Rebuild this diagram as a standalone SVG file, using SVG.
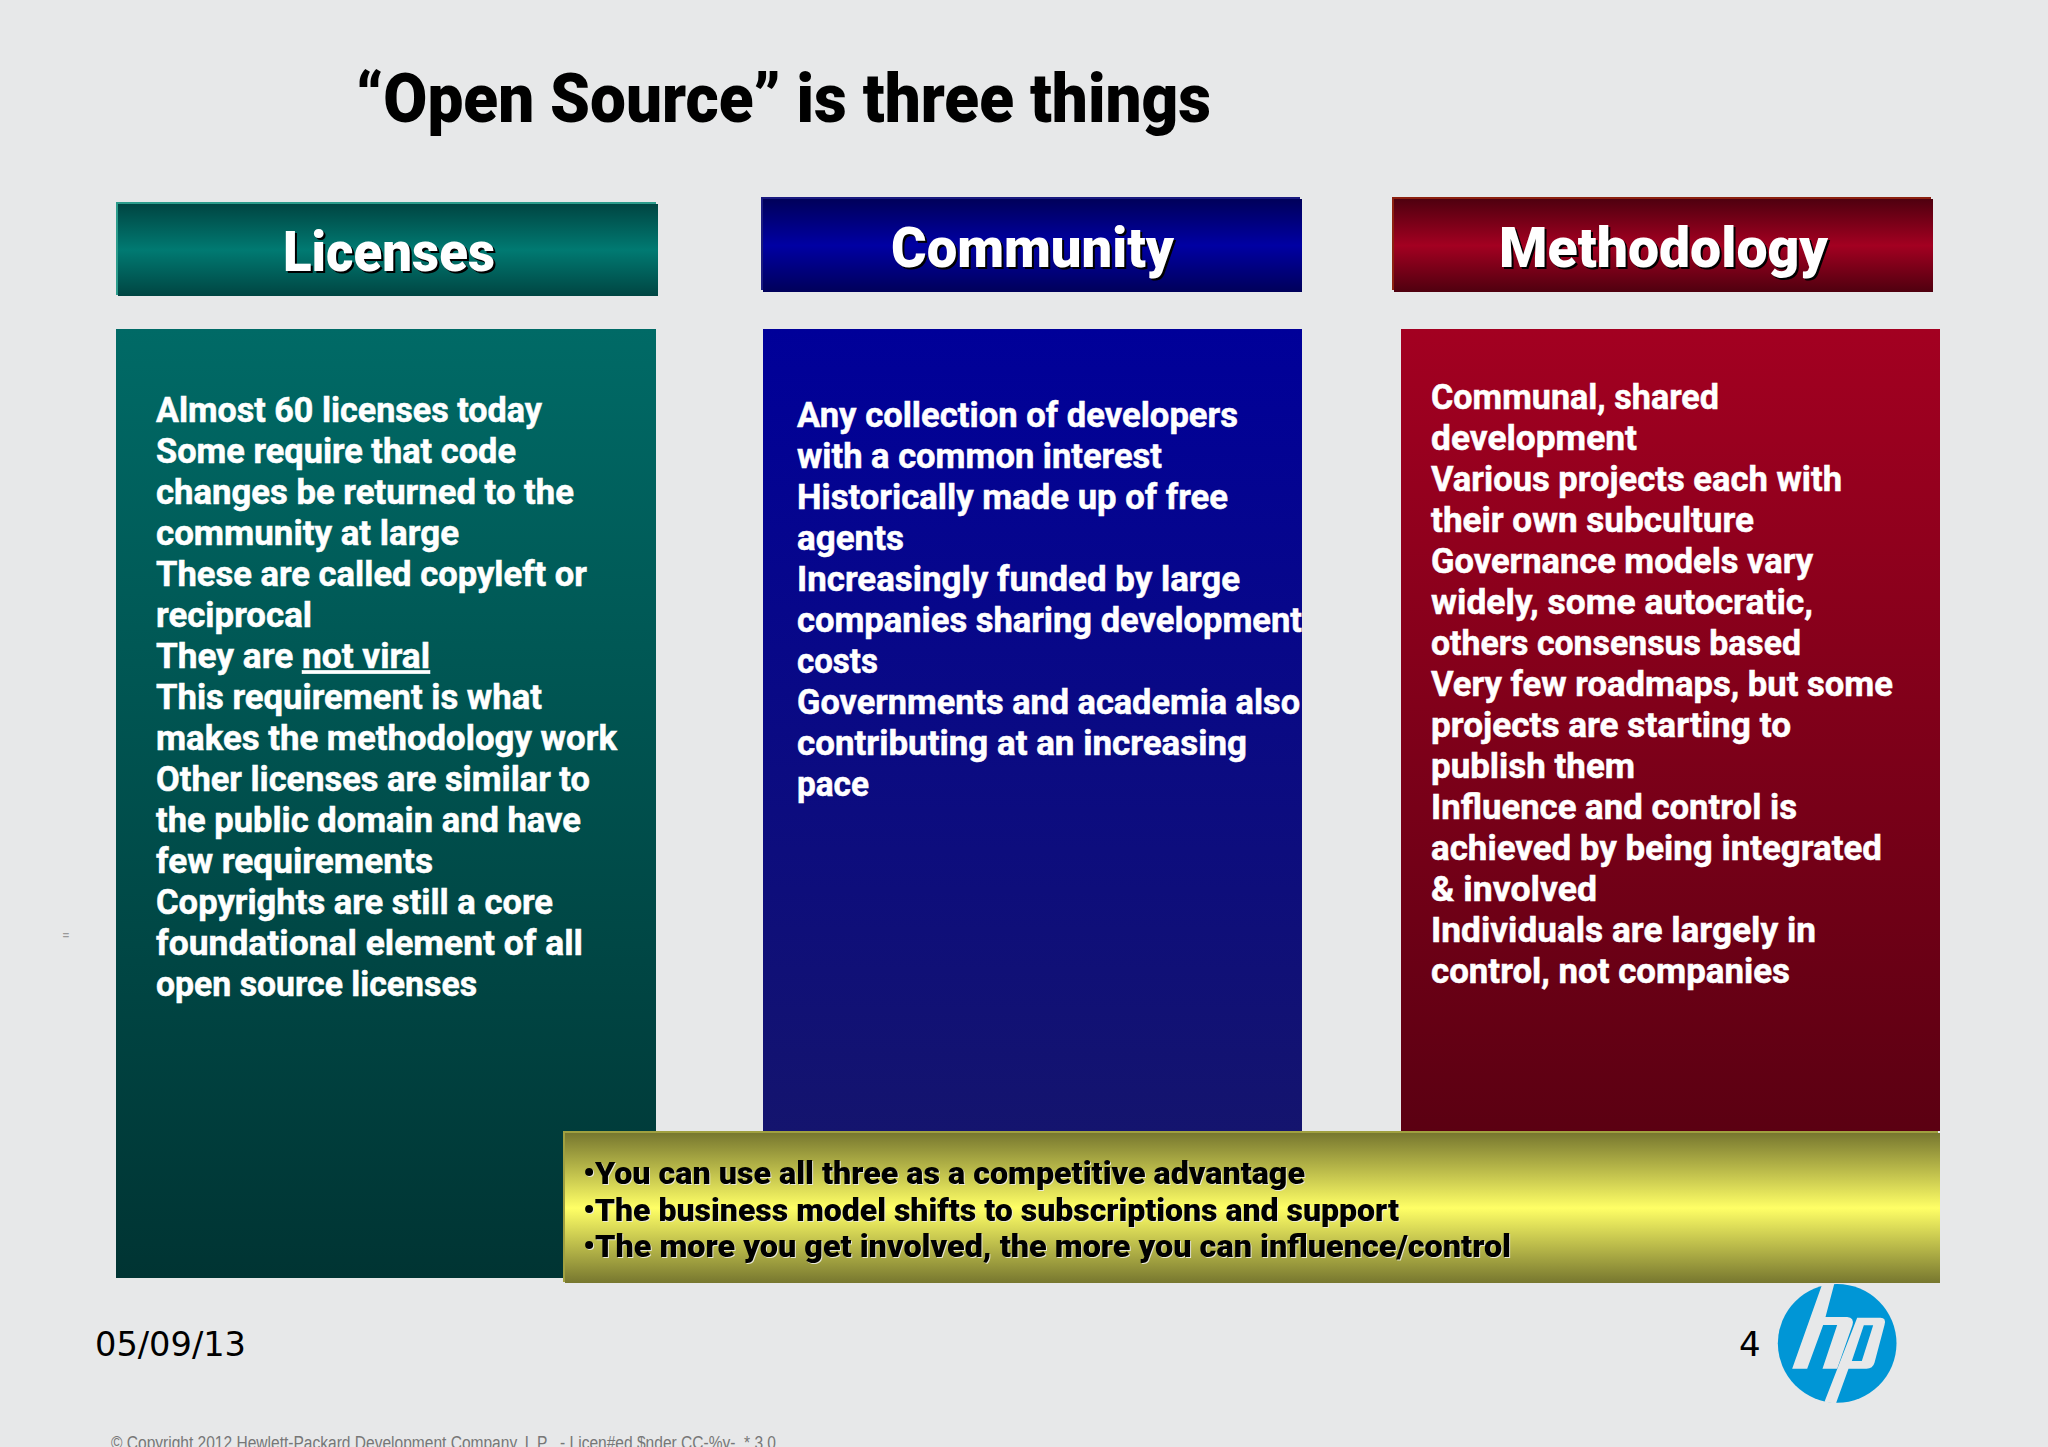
<svg xmlns="http://www.w3.org/2000/svg" width="2048" height="1447" viewBox="0 0 2048 1447">
<style>
text{font-family:Roboto,"Noto Sans","Liberation Sans",sans-serif;font-weight:900}
.body{font-size:34.5px;fill:#fff;font-weight:700;stroke:#fff;stroke-width:.5px;transform:translateY(-1.2px)}
.head{font-size:56px;fill:#fff;filter:drop-shadow(2.5px 2.5px 0 #000)}
.note{font-size:31.5px;fill:#000;filter:drop-shadow(1.5px 1.5px 0 #e8e8d8)}
.foot{font-family:"DejaVu Sans",sans-serif;font-weight:400;font-size:34px;fill:#000}
</style>
<defs>
<linearGradient id="pt" x1="0" y1="0" x2="0" y2="1"><stop offset="0" stop-color="#006a66"/><stop offset="1" stop-color="#003433"/></linearGradient>
<linearGradient id="pb" x1="0" y1="0" x2="0" y2="1"><stop offset="0" stop-color="#000099"/><stop offset="1" stop-color="#14146e"/></linearGradient>
<linearGradient id="pr" x1="0" y1="0" x2="0" y2="1"><stop offset="0" stop-color="#a30021"/><stop offset="1" stop-color="#5b0012"/></linearGradient>
<linearGradient id="ht" x1="0" y1="0" x2="0" y2="1"><stop offset="0" stop-color="#004542"/><stop offset=".5" stop-color="#007a72"/><stop offset="1" stop-color="#004542"/></linearGradient>
<linearGradient id="hb" x1="0" y1="0" x2="0" y2="1"><stop offset="0" stop-color="#00005a"/><stop offset=".5" stop-color="#0000a3"/><stop offset="1" stop-color="#00005a"/></linearGradient>
<linearGradient id="hr" x1="0" y1="0" x2="0" y2="1"><stop offset="0" stop-color="#4f000f"/><stop offset=".5" stop-color="#a30021"/><stop offset="1" stop-color="#4f000f"/></linearGradient>
<linearGradient id="hy" x1="0" y1="0" x2="0" y2="1"><stop offset="0" stop-color="#77772f"/><stop offset=".5" stop-color="#ffff66"/><stop offset="1" stop-color="#77772f"/></linearGradient>
</defs>
<rect id="background" width="2048" height="1447" fill="#e7e8e9"/>
<text id="title" x="356" y="122" font-size="68" fill="#000" textLength="855" lengthAdjust="spacingAndGlyphs">“Open Source” is three things</text>
<text id="mark" x="62" y="940" font-size="14" fill="#999" style="font-weight:400">=</text>

<g id="licenses-header">
<rect x="116" y="202" width="540" height="93" fill="#2c9c8c"/>
<rect x="118" y="204" width="540" height="92" fill="url(#ht)"/>
<text class="head" x="283" y="271" textLength="212" lengthAdjust="spacingAndGlyphs">Licenses</text>
</g>
<g id="community-header">
<rect x="761" y="197" width="539" height="93" fill="#1a1a80"/>
<rect x="763" y="199" width="539" height="93" fill="url(#hb)"/>
<text class="head" x="891" y="267" textLength="283" lengthAdjust="spacingAndGlyphs">Community</text>
</g>
<g id="methodology-header">
<rect x="1392" y="197" width="539" height="93" fill="#8c2010"/>
<rect x="1394" y="199" width="539" height="93" fill="url(#hr)"/>
<text class="head" x="1499" y="267" textLength="329" lengthAdjust="spacingAndGlyphs">Methodology</text>
</g>

<g id="licenses-panel">
<rect x="116" y="329" width="540" height="949" fill="url(#pt)"/>
<text class="body" x="156" y="423.5" textLength="386" lengthAdjust="spacingAndGlyphs">Almost 60 licenses today</text>
<text class="body" x="156" y="464.5" textLength="360" lengthAdjust="spacingAndGlyphs">Some require that code</text>
<text class="body" x="156" y="505.5" textLength="418" lengthAdjust="spacingAndGlyphs">changes be returned to the</text>
<text class="body" x="156" y="546.5" textLength="303" lengthAdjust="spacingAndGlyphs">community at large</text>
<text class="body" x="156" y="587.5" textLength="431" lengthAdjust="spacingAndGlyphs">These are called copyleft or</text>
<text class="body" x="156" y="628.5" textLength="156" lengthAdjust="spacingAndGlyphs">reciprocal</text>
<text class="body" x="156" y="669.5" textLength="274" lengthAdjust="spacingAndGlyphs">They are <tspan text-decoration="underline">not viral</tspan></text>
<text class="body" x="156" y="710.5" textLength="386" lengthAdjust="spacingAndGlyphs">This requirement is what</text>
<text class="body" x="156" y="751.5" textLength="461" lengthAdjust="spacingAndGlyphs">makes the methodology work</text>
<text class="body" x="156" y="792.5" textLength="434" lengthAdjust="spacingAndGlyphs">Other licenses are similar to</text>
<text class="body" x="156" y="833.5" textLength="425" lengthAdjust="spacingAndGlyphs">the public domain and have</text>
<text class="body" x="156" y="874.5" textLength="277" lengthAdjust="spacingAndGlyphs">few requirements</text>
<text class="body" x="156" y="915.5" textLength="397" lengthAdjust="spacingAndGlyphs">Copyrights are still a core</text>
<text class="body" x="156" y="956.5" textLength="427" lengthAdjust="spacingAndGlyphs">foundational element of all</text>
<text class="body" x="156" y="997.5" textLength="321" lengthAdjust="spacingAndGlyphs">open source licenses</text>
</g>

<g id="community-panel">
<rect x="763" y="329" width="539" height="802" fill="url(#pb)"/>
<text class="body" x="797" y="428.5" textLength="441" lengthAdjust="spacingAndGlyphs">Any collection of developers</text>
<text class="body" x="797" y="469.5" textLength="365" lengthAdjust="spacingAndGlyphs">with a common interest</text>
<text class="body" x="797" y="510.5" textLength="431" lengthAdjust="spacingAndGlyphs">Historically made up of free</text>
<text class="body" x="797" y="551.5" textLength="107" lengthAdjust="spacingAndGlyphs">agents</text>
<text class="body" x="797" y="592.5" textLength="443" lengthAdjust="spacingAndGlyphs">Increasingly funded by large</text>
<text class="body" x="797" y="633.5" textLength="505" lengthAdjust="spacingAndGlyphs">companies sharing development</text>
<text class="body" x="797" y="674.5" textLength="81" lengthAdjust="spacingAndGlyphs">costs</text>
<text class="body" x="797" y="715.5" textLength="503" lengthAdjust="spacingAndGlyphs">Governments and academia also</text>
<text class="body" x="797" y="756.5" textLength="450" lengthAdjust="spacingAndGlyphs">contributing at an increasing</text>
<text class="body" x="797" y="797.5" textLength="72" lengthAdjust="spacingAndGlyphs">pace</text>
</g>

<g id="methodology-panel">
<rect x="1401" y="329" width="539" height="802" fill="url(#pr)"/>
<text class="body" x="1431" y="410.5" textLength="288" lengthAdjust="spacingAndGlyphs">Communal, shared</text>
<text class="body" x="1431" y="451.5" textLength="206" lengthAdjust="spacingAndGlyphs">development</text>
<text class="body" x="1431" y="492.5" textLength="411" lengthAdjust="spacingAndGlyphs">Various projects each with</text>
<text class="body" x="1431" y="533.5" textLength="323" lengthAdjust="spacingAndGlyphs">their own subculture</text>
<text class="body" x="1431" y="574.5" textLength="382" lengthAdjust="spacingAndGlyphs">Governance models vary</text>
<text class="body" x="1431" y="615.5" textLength="382" lengthAdjust="spacingAndGlyphs">widely, some autocratic,</text>
<text class="body" x="1431" y="656.5" textLength="370" lengthAdjust="spacingAndGlyphs">others consensus based</text>
<text class="body" x="1431" y="697.5" textLength="462" lengthAdjust="spacingAndGlyphs">Very few roadmaps, but some</text>
<text class="body" x="1431" y="738.5" textLength="360" lengthAdjust="spacingAndGlyphs">projects are starting to</text>
<text class="body" x="1431" y="779.5" textLength="204" lengthAdjust="spacingAndGlyphs">publish them</text>
<text class="body" x="1431" y="820.5" textLength="366" lengthAdjust="spacingAndGlyphs">Influence and control is</text>
<text class="body" x="1431" y="861.5" textLength="451" lengthAdjust="spacingAndGlyphs">achieved by being integrated</text>
<text class="body" x="1431" y="902.5" textLength="166" lengthAdjust="spacingAndGlyphs">&amp; involved</text>
<text class="body" x="1431" y="943.5" textLength="385" lengthAdjust="spacingAndGlyphs">Individuals are largely in</text>
<text class="body" x="1431" y="984.5" textLength="359" lengthAdjust="spacingAndGlyphs">control, not companies</text>
</g>

<g id="summary-note">
<rect x="563" y="1131" width="1375" height="151" fill="#a0a040"/>
<rect x="565" y="1133" width="1375" height="150" fill="url(#hy)"/>
<text class="note" x="583" y="1184" textLength="722" lengthAdjust="spacingAndGlyphs">•You can use all three as a competitive advantage</text>
<text class="note" x="583" y="1220.5" textLength="816" lengthAdjust="spacingAndGlyphs">•The business model shifts to subscriptions and support</text>
<text class="note" x="583" y="1257" textLength="928" lengthAdjust="spacingAndGlyphs">•The more you get involved, the more you can influence/control</text>
</g>

<g id="footer">
<text class="foot" x="95" y="1356" textLength="151" lengthAdjust="spacingAndGlyphs">05/09/13</text>
<text class="foot" x="1739" y="1356">4</text>
<text x="111" y="1449" font-size="18" fill="#777" textLength="665" lengthAdjust="spacingAndGlyphs" xml:space="preserve" style="font-family:'Liberation Sans',sans-serif;font-weight:400">© Copyright 2012 Hewlett-Packard Development Company, L P   - Licen#ed $nder CC-%y-, * 3 0</text>
</g>

<g id="hp-logo" transform="translate(1650.5 1101) scale(.33333)">
<circle cx="560" cy="727" r="178" fill="#0096d6"/>
<path d="M515 550L552 546L525 648L590 648Q612 650 606 672L560 803L516 803L560 672L518 672L470 803L425 803Z" fill="#e7e8e9"/>
<path fill-rule="evenodd" d="M620 650L690 650Q708 650 702 672L672 785Q667 803 648 803L594 803L556 908L522 902ZM640 673L668 673L634 780L604 780Z" fill="#e7e8e9"/>
</g>
</svg>
